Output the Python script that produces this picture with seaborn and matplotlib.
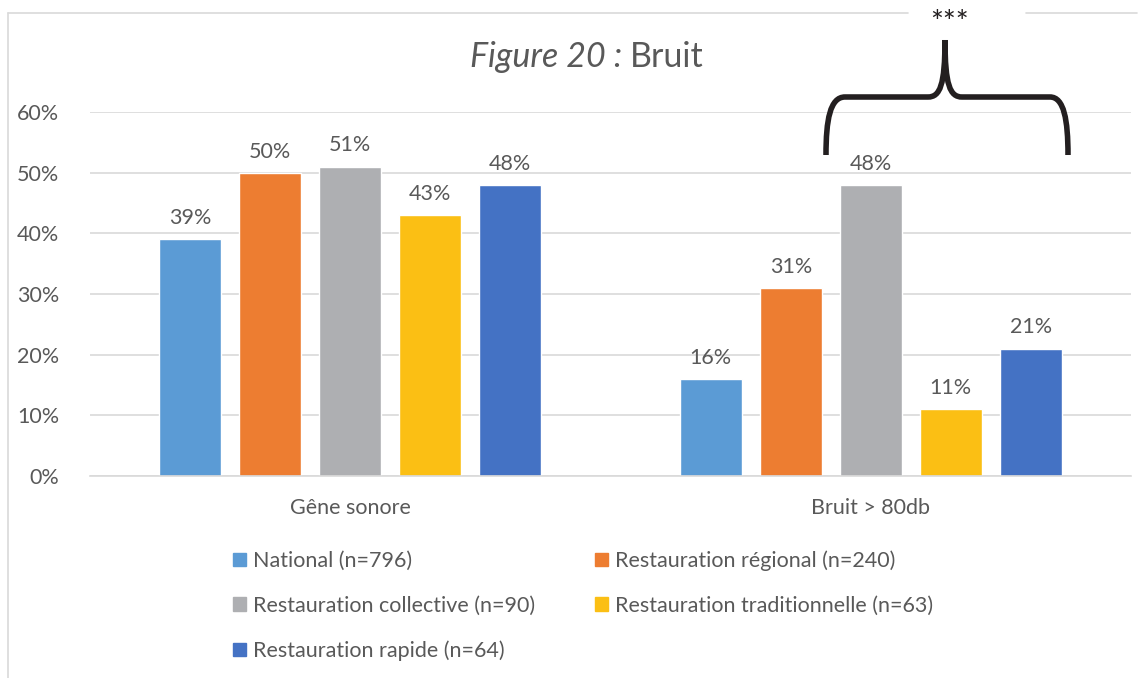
import pandas as pd
import seaborn as sns
import matplotlib.pyplot as plt
from matplotlib.path import Path
from matplotlib.patches import PathPatch
from matplotlib.lines import Line2D
from matplotlib.ticker import PercentFormatter

categories = ["Gêne sonore", "Bruit > 80db"]
groups = [
    "National (n=796)",
    "Restauration régional (n=240)",
    "Restauration collective (n=90)",
    "Restauration traditionnelle (n=63)",
    "Restauration rapide (n=64)",
]
gene_sonore = [0.39, 0.50, 0.51, 0.43, 0.48]
bruit_80db = [0.16, 0.31, 0.48, 0.11, 0.21]
colors = ["#5B9BD5", "#ED7D31", "#AEAFB2", "#FBBF14", "#4472C4"]

rows = []
for g, a, b in zip(groups, gene_sonore, bruit_80db):
    rows.append({"cat": categories[0], "grp": g, "val": a})
    rows.append({"cat": categories[1], "grp": g, "val": b})
df = pd.DataFrame(rows)

sns.set_style("white")
plt.rcParams["font.family"] = ["Lato", "DejaVu Sans"]
grey = "#595959"

W, H = 1146, 678
fig = plt.figure(figsize=(W / 100, H / 100), dpi=100)
ax = fig.add_axes([90 / W, 1 - 476 / H, (1131 - 90) / W, (476 - 112) / H])

sns.barplot(data=df, x="cat", y="val", hue="grp", order=categories,
            hue_order=groups, palette=colors, width=0.768, gap=0.225,
            saturation=1, ax=ax, legend=False)

ax.set_ylim(0, 0.6)
ax.set_xlim(-0.5, 1.5)
ax.set_yticks([0, 0.1, 0.2, 0.3, 0.4, 0.5, 0.6])
ax.yaxis.set_major_formatter(PercentFormatter(1.0, decimals=0))
ax.grid(axis="y", color="#D9D9D9", linewidth=1.2)
ax.set_axisbelow(True)
for s in ["top", "right", "left"]:
    ax.spines[s].set_visible(False)
ax.spines["bottom"].set_color("#D9D9D9")
ax.spines["bottom"].set_linewidth(1.2)
ax.tick_params(axis="both", length=0, colors=grey, labelsize=15.5)
ax.tick_params(axis="y", pad=22)
ax.tick_params(axis="x", pad=16)
ax.set_xlabel("")
ax.set_ylabel("")

for cont in ax.containers:
    ax.bar_label(cont, labels=[f"{v * 100:.0f}%" for v in cont.datavalues],
                 padding=8, color=grey, fontsize=15.5)

# title
fig.text(630 / W, 1 - 57 / H, "Figure 20 : ", ha="right", va="center",
         fontsize=24.5, color=grey, style="italic")
fig.text(630 / W, 1 - 57 / H, "Bruit", ha="left", va="center",
         fontsize=24.5, color=grey)


def px(x, y):
    return (x / W, 1 - y / H)


# chart border
for xs, ys in [((8, 8), (13, 678)), ((8, 908), (13, 13)), ((1026, 1137), (13, 13))]:
    fig.add_artist(Line2D([x / W for x in xs], [1 - y / H for y in ys],
                          color="#D9D9D9", linewidth=1.2))

# brace
verts = [px(826, 155), px(826, 120), px(830, 97), px(845, 97),
         px(928, 97), px(940, 97), px(945, 85), px(945, 40),
         px(945, 85), px(950, 97), px(962, 97),
         px(1050, 97), px(1064, 97), px(1068, 120), px(1068, 155)]
codes = [Path.MOVETO, Path.CURVE4, Path.CURVE4, Path.CURVE4,
         Path.LINETO, Path.CURVE4, Path.CURVE4, Path.CURVE4,
         Path.CURVE4, Path.CURVE4, Path.CURVE4,
         Path.LINETO, Path.CURVE4, Path.CURVE4, Path.CURVE4]
fig.add_artist(PathPatch(Path(verts, codes), transform=fig.transFigure,
                         facecolor="none", edgecolor="#231F20", linewidth=4))
fig.text(950 / W, 1 - 23 / H, "***", ha="center", va="center",
         fontsize=22, color="#231F20")

# legend (row-major order)
order = [0, 2, 4, 1, 3]
handles = [plt.Rectangle((0, 0), 1, 1, color=colors[i]) for i in order]
labels = [groups[i] for i in order]
fig.legend(handles, labels, ncol=2, loc="upper left",
           bbox_to_anchor=(214 / W, 1 - 531 / H), frameon=False,
           fontsize=15.5, labelcolor=grey, handlelength=0.6, handleheight=0.6,
           handletextpad=0.3, columnspacing=2.8, labelspacing=1.15)

fig.savefig("out.png", dpi=100)
